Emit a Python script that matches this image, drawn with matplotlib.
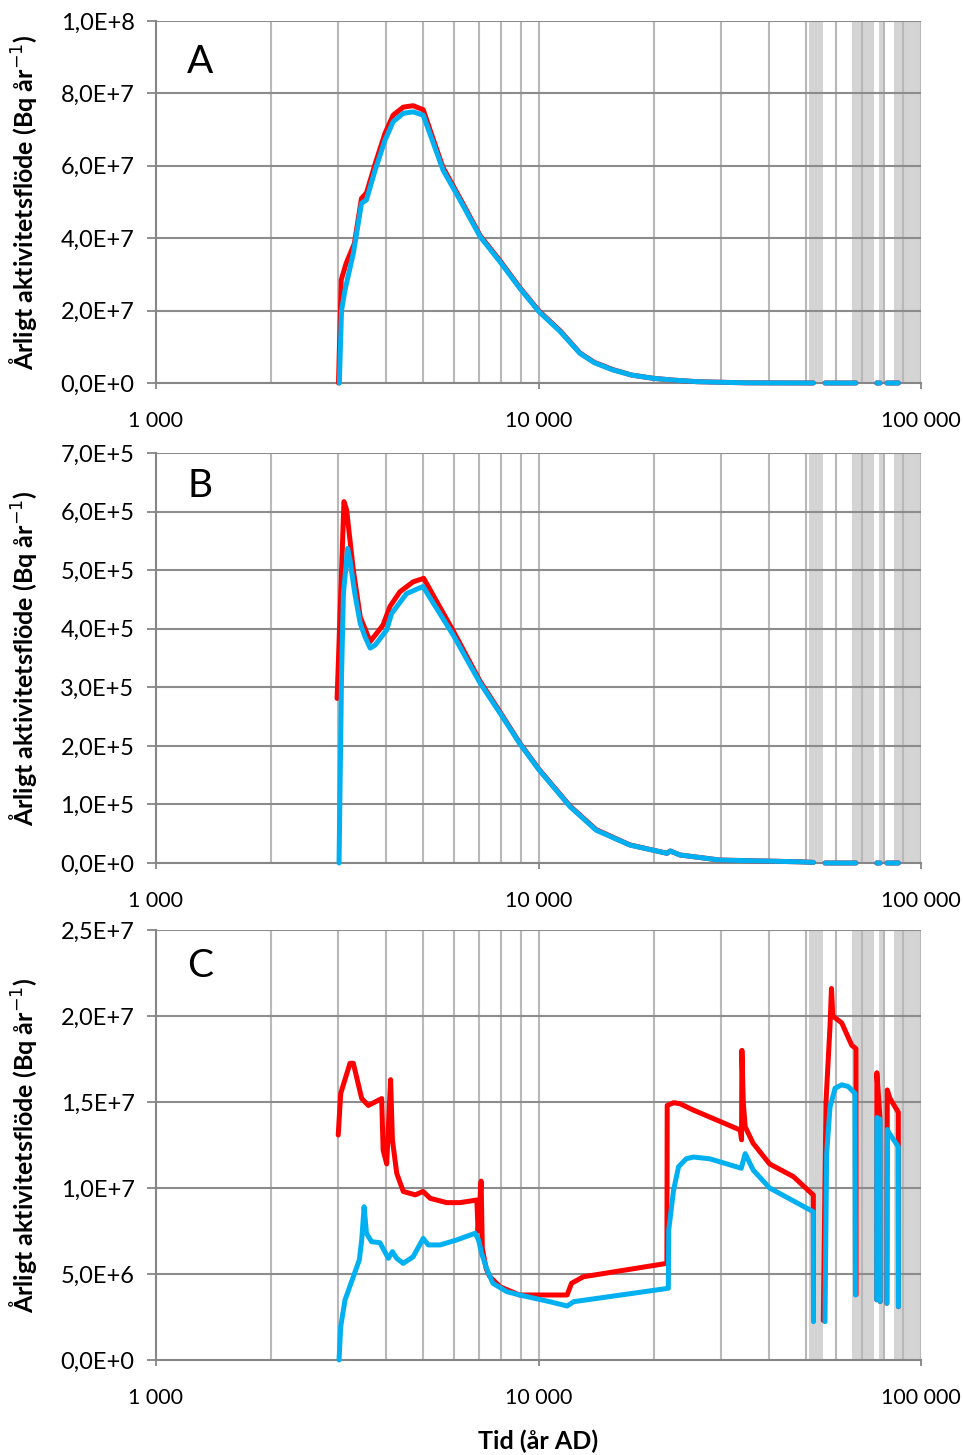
import numpy as np
import matplotlib
matplotlib.use("Agg")
import matplotlib.pyplot as plt
from matplotlib.ticker import FixedLocator, FuncFormatter, NullFormatter

nan = np.nan

# Tidsintervall med grå markering (år AD)
band_start = [51000, 66000, 77800, 85200]
band_end = [55500, 75300, 80000, 100000]

# Panel A
tA_red = [3000, 3050, 3140, 3300, 3445, 3550, 3740, 3970, 4170, 4430, 4700, 4995,
          5300, 5630, 6200, 7040, 7930, 8930, 10030, 11400, 12830, 14000, 15660,
          17500, 19930, 22500, 25900, 30000, 35000, 52300, nan,
          56100, 67600, nan, 76600, 78200, nan, 81400, 87300]
vA_red = [0, 2.85e7, 3.3e7, 3.85e7, 5.1e7, 5.25e7, 6.05e7, 6.9e7, 7.4e7, 7.62e7,
          7.66e7, 7.55e7, 6.75e7, 5.95e7, 5.15e7, 4.07e7, 3.38e7, 2.64e7, 1.99e7,
          1.44e7, 8.3e6, 5.7e6, 3.7e6, 2.2e6, 1.3e6, 8e5, 3.7e5, 2e5, 5e4, 0, nan,
          0, 0, nan, 0, 0, nan, 0, 0]
tA_blue = [3015, 3055, 3120, 3280, 3445, 3550, 3740, 3970, 4170, 4430, 4700, 4995,
           5300, 5630, 6200, 7040, 7930, 8930, 10030, 11400, 12830, 14000, 15660,
           17500, 19930, 22500, 25900, 30000, 35000, 52300, nan,
           56100, 67600, nan, 76600, 78200, nan, 81400, 87300]
vA_blue = [0, 2.0e7, 2.57e7, 3.58e7, 4.96e7, 5.06e7, 5.88e7, 6.71e7, 7.22e7, 7.45e7,
           7.49e7, 7.40e7, 6.65e7, 5.88e7, 5.1e7, 4.04e7, 3.35e7, 2.62e7, 1.97e7,
           1.42e7, 8.2e6, 5.6e6, 3.6e6, 2.2e6, 1.3e6, 8e5, 3.7e5, 2e5, 5e4, 0, nan,
           0, 0, nan, 0, 0, nan, 0, 0]

# Panel B
tB_red = [2975, 3100, 3150, 3280, 3420, 3630, 3920, 4090, 4340, 4700, 5010, 6000,
          7040, 7930, 8930, 10030, 12100, 14150, 17320, 21660, 22100, 23440, 29800,
          48500, 52300, nan, 56100, 67600, nan, 76600, 78200, nan, 81400, 87300]
vB_red = [2.81e5, 6.17e5, 6.03e5, 5.0e5, 4.2e5, 3.78e5, 4.06e5, 4.38e5, 4.63e5,
          4.80e5, 4.86e5, 3.95e5, 3.1e5, 2.58e5, 2.05e5, 1.6e5, 9.7e4, 5.7e4, 3.1e4,
          1.66e4, 2.05e4, 1.37e4, 5e3, 2e3, 1e3, nan, 0, 0, nan, 0, 0, nan, 0, 0]
tB_blue = [3010, 3055, 3090, 3170, 3215, 3310, 3420, 3520, 3630, 3740, 4010, 4130,
           4520, 4990, 6000, 7040, 7930, 8930, 10030, 12100, 14150, 17320, 21660,
           22100, 23440, 29800, 48500, 52300, nan, 56100, 67600, nan, 76600, 78200,
           nan, 81400, 87300]
vB_blue = [0, 3.18e5, 4.6e5, 5.37e5, 5.17e5, 4.6e5, 4.09e5, 3.86e5, 3.67e5, 3.72e5,
           3.98e5, 4.26e5, 4.6e5, 4.72e5, 3.88e5, 3.07e5, 2.56e5, 2.04e5, 1.59e5,
           9.6e4, 5.6e4, 3.07e4, 1.66e4, 2.05e4, 1.37e4, 5e3, 2e3, 1e3, nan, 0, 0,
           nan, 0, 0, nan, 0, 0]

# Panel C
tC_red = [2995, 3040, 3215, 3280, 3450, 3590, 3890, 3925, 4010, 4105, 4150, 4260,
          4430, 4760, 4990, 5210, 5750, 6230, 6900, 6950, 7080, 7130, 7300, 7460,
          7930, 8920, 11880, 12200, 13100, 21660, 21700, 22550, 23440, 25400, 33670,
          33950, 34020, 34300, 34700, 36400, 40200, 46400, 52300, 52350, nan,
          55540, 56440, 57820, 58330, 58810, 62040, 65900, 67600, 67650, nan,
          76600, 76650, 78100, 78200, nan, 81400, 81640, 83000, 87230, 87300]
vC_red = [1.308e7, 1.55e7, 1.725e7, 1.725e7, 1.52e7, 1.48e7, 1.52e7, 1.22e7, 1.14e7,
          1.63e7, 1.28e7, 1.085e7, 9.8e6, 9.6e6, 9.8e6, 9.4e6, 9.15e6, 9.15e6,
          9.3e6, 7.5e6, 1.04e7, 6.5e6, 5.3e6, 4.85e6, 4.26e6, 3.78e6, 3.78e6,
          4.46e6, 4.84e6, 5.62e6, 1.48e7, 1.496e7, 1.49e7, 1.453e7, 1.337e7,
          1.28e7, 1.80e7, 1.5e7, 1.356e7, 1.26e7, 1.14e7, 1.066e7, 9.59e6, 2.3e6, nan,
          2.3e6, 1.5e7, 1.94e7, 2.16e7, 2.0e7, 1.96e7, 1.83e7, 1.81e7, 3.8e6, nan,
          3.5e6, 1.67e7, 1.41e7, 3.4e6, nan, 3.3e6, 1.57e7, 1.52e7, 1.44e7, 3.1e6]
tC_blue = [3010, 3040, 3120, 3280, 3400, 3450, 3500, 3550, 3660, 3850, 4050, 4150,
           4260, 4430, 4700, 4995, 5150, 5530, 6110, 6830, 6970, 7100, 7340, 7600,
           8270, 8930, 10700, 11880, 12360, 21850, 21900, 22550, 23240, 24340, 25400,
           28000, 33900, 34700, 36400, 40200, 52300, 52350, nan,
           56100, 56670, 57820, 59610, 62040, 64540, 67200, 67400, nan,
           76600, 76650, 78130, 78200, nan, 81400, 81640, 82500, 87230, 87300]
vC_blue = [0, 1.94e6, 3.49e6, 4.84e6, 5.81e6, 6.98e6, 8.91e6, 7.37e6, 6.88e6, 6.82e6,
           5.91e6, 6.3e6, 5.91e6, 5.62e6, 6.0e6, 7.07e6, 6.69e6, 6.69e6, 6.98e6,
           7.37e6, 6.98e6, 6.2e6, 5.23e6, 4.46e6, 3.97e6, 3.78e6, 3.39e6, 3.14e6,
           3.39e6, 4.17e6, 7.56e6, 9.88e6, 1.124e7, 1.17e7, 1.18e7, 1.17e7, 1.115e7,
           1.2e7, 1.105e7, 1.0e7, 8.62e6, 2.23e6, nan,
           2.23e6, 1.2e7, 1.47e7, 1.58e7, 1.6e7, 1.59e7, 1.55e7, 3.78e6, nan,
           3.5e6, 1.41e7, 1.40e7, 3.4e6, nan, 3.3e6, 1.34e7, 1.32e7, 1.24e7, 3.1e6]

panels = [
    ("A", tA_red, vA_red, tA_blue, vA_blue, 1e8, 2e7),
    ("B", tB_red, vB_red, tB_blue, vB_blue, 7e5, 1e5),
    ("C", tC_red, vC_red, tC_blue, vC_blue, 2.5e7, 5e6),
]

plt.rcParams["font.family"] = ["Lato", "DejaVu Sans"]

W, H = 963, 1455
fig = plt.figure(figsize=(W / 100, H / 100), dpi=100)
boxes = [(21, 383), (453, 863), (930, 1360)]   # topp/botten i pixlar
letter_y = [62, 486, 966]
x0, x1 = 156, 921


def sci_comma(v, pos=None):
    if v == 0:
        return "0,0E+0"
    e = int(np.floor(np.log10(abs(v)) + 1e-9))
    m = v / 10 ** e
    return f"{m:.1f}".replace(".", ",") + f"E+{e}"


def thousands(v, pos=None):
    return f"{int(round(v)):,}".replace(",", " ")


for (label, tr, vr, tb, vb, ymax, ystep), (top, bot), ly in zip(panels, boxes, letter_y):
    ax = fig.add_axes([x0 / W, 1 - bot / H, (x1 - x0) / W, (bot - top) / H])
    ax.set_xscale("log")
    ax.set_xlim(1000, 100000)
    ax.set_ylim(0, ymax)

    for a, b in zip(band_start, band_end):
        ax.axvspan(a, b, color="#d4d4d4", lw=0, zorder=0)

    minors = [m * 10 ** k for k in (3, 4) for m in range(2, 10)]
    for xv in minors + [10000, 100000]:
        ax.axvline(xv, color="#b8b8b8", lw=1.5, zorder=1)
    yt = np.arange(0, ymax + ystep / 2, ystep)
    for yv in yt[1:]:
        ax.axhline(yv, color="#8c8c8c", lw=1.5, zorder=1)

    ax.plot(tr, vr, color="#ff0000", lw=3.6, solid_capstyle="round",
            solid_joinstyle="round", zorder=3, clip_on=False)
    ax.plot(tb, vb, color="#00b0f0", lw=3.6, solid_capstyle="round",
            solid_joinstyle="round", zorder=4, clip_on=False)

    ax.xaxis.set_major_locator(FixedLocator([1000, 10000, 100000]))
    ax.xaxis.set_minor_locator(FixedLocator([]))
    ax.xaxis.set_major_formatter(FuncFormatter(thousands))
    ax.xaxis.set_minor_formatter(NullFormatter())
    ax.set_yticks(yt)
    ax.yaxis.set_major_formatter(FuncFormatter(sci_comma))

    for s in ("top", "right"):
        ax.spines[s].set_visible(False)
    for s in ("left", "bottom"):
        ax.spines[s].set_color("#868686")
        ax.spines[s].set_linewidth(1.5)
        ax.spines[s].set_zorder(2)
    ax.tick_params(axis="x", direction="out", length=4.5, width=1.3,
                   color="#868686", labelsize=15.5, pad=16)
    ax.tick_params(axis="y", direction="out", length=6.5, width=1.3,
                   color="#868686", labelsize=17, pad=9)

    ax.set_ylabel("Årligt aktivitetsflöde (Bq år$^{-1}$)", fontsize=18,
                  fontweight="bold")
    ax.yaxis.set_label_coords(-(x0 - 39) / (x1 - x0), 0.5)
    ax.text((200 - x0) / (x1 - x0), 1 - (ly - top) / (bot - top), label,
            transform=ax.transAxes, fontsize=28, ha="center", va="center")

    if label == "C":
        ax.set_xlabel("Tid (år AD)", fontsize=18, fontweight="bold", labelpad=15)

fig.savefig("out.png", dpi=100)
